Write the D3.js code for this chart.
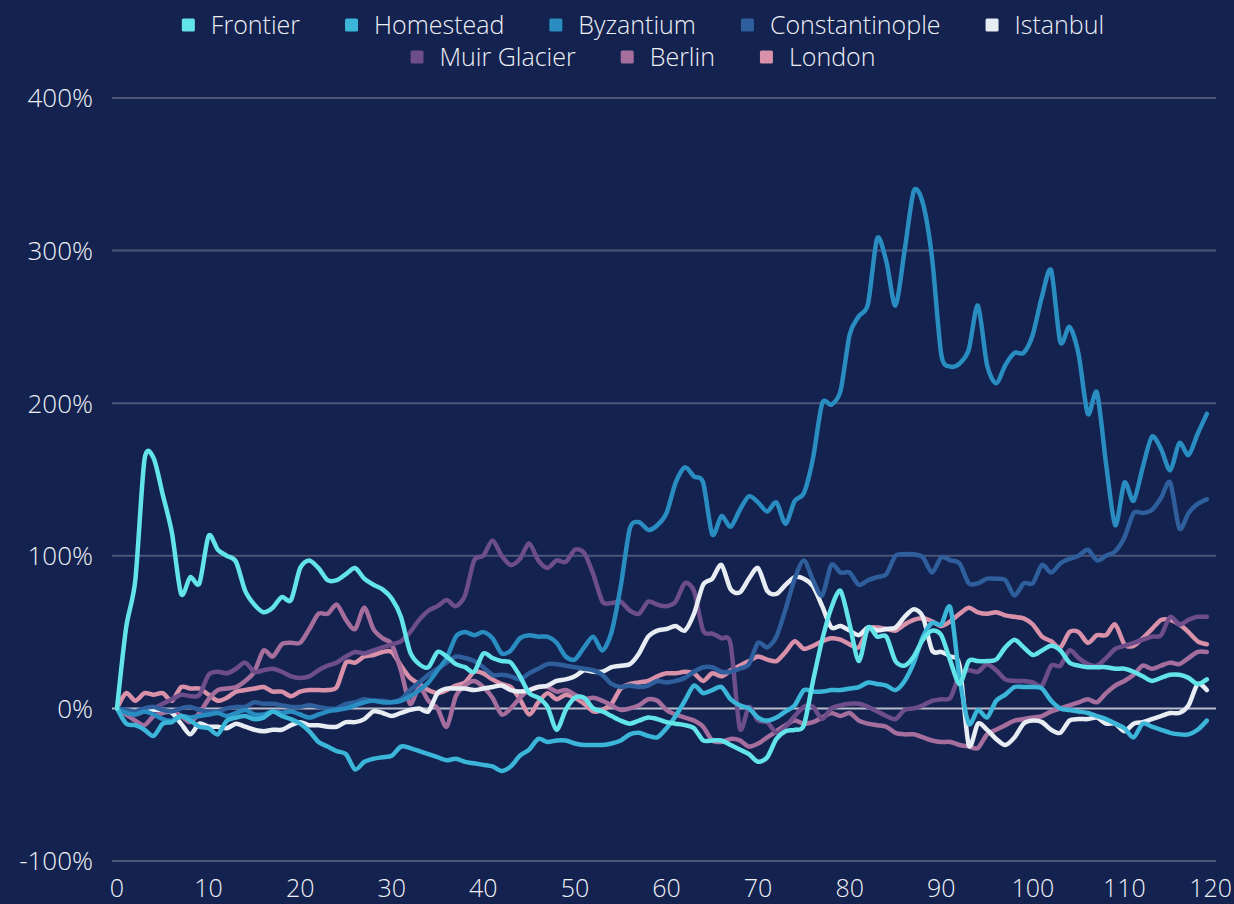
<!DOCTYPE html>
<html>
<head>
<meta charset="utf-8">
<script src="https://cdn.jsdelivr.net/npm/d3@7"></script>
<style>
  html, body { margin: 0; padding: 0; background: #13224f; }
  svg { display: block; font-family: "Open Sans", sans-serif; font-weight: 300; }
</style>
</head>
<body>
<div id="chart"></div>
<script>
// series names + colours (legend order)
var seriesNames = ["Frontier", "Homestead", "Byzantium", "Constantinople", "Istanbul", "Muir Glacier", "Berlin", "London"];
var seriesColors = ["#62e4e8", "#3bb6d8", "#2a8dc1", "#2e5e9c", "#e8ecf3", "#6d4e8a", "#a66e9d", "#d991aa"];

var yTicks = [-100, 0, 100, 200, 300, 400];
var xTicks = [0, 10, 20, 30, 40, 50, 60, 70, 80, 90, 100, 110, 120];

// percent change per step (steps 0..119)
var frontier = [0, 53, 84, 163, 164, 140, 115, 75, 86, 82, 113, 104, 100, 96, 77, 68, 63, 66, 73, 71,
  92, 97, 92, 84, 84, 88, 92, 85, 81, 78, 72, 60, 37, 29, 27, 37, 34, 29, 27, 24,
  36, 33, 31, 30, 21, 10, 7, 1, -14, -1, 7, 7, 0, -2, -5, -8, -10, -8, -6, -7,
  -9, -10, -11, -13, -21, -21, -21, -24, -27, -30, -35, -32, -20, -15, -14, -11, 18, 45, 66, 77,
  55, 31, 53, 47, 47, 31, 28, 34, 45, 51, 48, 31, 16, 31, 31, 31, 32, 40, 45, 40,
  35, 38, 41, 38, 30, 28, 27, 27, 27, 26, 26, 24, 21, 18, 20, 22, 22, 20, 16, 19];

var homestead = [0, -10, -11, -14, -18, -10, -9, -5, -8, -12, -13, -17, -8, -6, -5, -7, -6, -2, -5, -7,
  -10, -15, -22, -25, -28, -30, -40, -35, -33, -32, -31, -25, -26, -28, -30, -32, -34, -33, -35, -36,
  -37, -38, -41, -38, -31, -27, -20, -22, -21, -21, -23, -24, -24, -24, -23, -21, -17, -16, -18, -19,
  -13, -5, 5, 15, 10, 12, 14, 6, 2, 0, -6, -8, -6, -2, 2, 12, 11, 11, 12, 12,
  13, 14, 17, 16, 15, 12, 18, 30, 47, 56, 55, 66, 20, -10, -1, -6, 5, 9, 14, 14,
  14, 13, 5, 0, -1, -2, -3, -5, -7, -10, -13, -19, -10, -12, -14, -16, -17, -17, -14, -8];

var byzantium = [0, -3, -4, -2, -4, -7, -8, -5, -6, -5, -4, -3, -5, -3, -1, -4, -4, -2, -3, -2,
  -4, -6, -4, -2, -1, 0, 2, 4, 5, 4, 4, 5, 8, 12, 17, 25, 33, 47, 50, 48,
  50, 46, 36, 38, 46, 48, 47, 47, 43, 34, 32, 40, 47, 38, 50, 80, 118, 122, 117, 120,
  128, 148, 158, 152, 148, 114, 126, 119, 130, 139, 135, 129, 135, 121, 136, 141, 164, 200, 199, 208,
  245, 257, 265, 308, 293, 264, 300, 339, 331, 295, 232, 224, 226, 235, 264, 225, 213, 225, 233, 233,
  245, 270, 287, 240, 250, 232, 193, 207, 160, 120, 148, 136, 158, 178, 170, 156, 174, 166, 180, 193];

var constantinople = [0, -1, -2, 0, 1, -1, -2, 0, 1, -1, -2, -2, 0, 1, 1, 4, 3, 3, 2, 1,
  1, 2, 1, 0, 0, 3, 4, 6, 5, 5, 4, 6, 12, 17, 22, 26, 30, 34, 33, 31,
  27, 22, 22, 21, 19, 23, 26, 29, 29, 28, 27, 26, 25, 22, 16, 14, 15, 14, 15, 18,
  17, 18, 20, 24, 27, 27, 24, 24, 26, 29, 43, 40, 47, 65, 85, 97, 84, 74, 94, 89,
  89, 81, 84, 86, 88, 100, 101, 101, 99, 89, 99, 97, 95, 82, 82, 85, 85, 84, 74, 82,
  82, 94, 89, 95, 98, 100, 104, 97, 100, 103, 112, 128, 128, 130, 138, 148, 118, 128, 134, 137];

var istanbul = [0, -2, -2, -1, -1, -1, -3, -10, -17, -10, -12, -12, -13, -10, -12, -14, -15, -14, -14, -11,
  -9, -11, -11, -12, -12, -9, -9, -7, -2, -3, -5, -3, -1, 0, -2, 10, 13, 13, 13, 12,
  13, 14, 15, 12, 11, 12, 14, 15, 18, 19, 21, 25, 24, 24, 27, 28, 29, 36, 47, 51,
  52, 54, 51, 62, 81, 85, 94, 78, 76, 85, 92, 77, 75, 81, 86, 85, 80, 67, 53, 54,
  51, 48, 53, 51, 52, 53, 60, 65, 60, 38, 37, 34, 28, -24, -10, -14, -20, -24, -19, -10,
  -8, -9, -14, -16, -8, -7, -7, -6, -10, -10, -15, -10, -9, -7, -5, -3, -3, 2, 16, 12];

var muirGlacier = [0, -2, -4, -2, 0, 3, 6, 9, 8, 9, 22, 24, 23, 26, 30, 24, 25, 26, 24, 21,
  20, 21, 25, 28, 30, 34, 37, 36, 38, 40, 42, 44, 50, 58, 64, 67, 71, 67, 74, 97,
  100, 110, 100, 94, 98, 108, 97, 92, 97, 96, 104, 102, 88, 70, 69, 70, 64, 62, 70, 68,
  67, 70, 82, 77, 51, 49, 46, 42, -13, 1, -8, -9, -16, -12, -5, 1, 1, -7, 0, 2,
  3, 3, 1, -2, -5, -7, -1, 0, 2, 5, 6, 7, 22, 25, 24, 29, 25, 19, 18, 18,
  17, 15, 28, 28, 38, 33, 29, 28, 33, 39, 41, 43, 45, 47, 48, 60, 55, 58, 60, 60];

var berlin = [0, -4, -8, -11, -5, -3, -2, -5, -9, -3, 6, 12, 13, 14, 18, 24, 38, 34, 42, 43,
  43, 52, 62, 62, 68, 58, 52, 66, 52, 46, 42, 25, 3, 14, 5, 0, -12, 8, 15, 18,
  14, 7, -4, 0, 7, 12, 14, 14, 11, 12, 9, 6, 7, 5, 2, -1, 0, 2, 6, 5,
  -1, -4, -6, -8, -12, -21, -22, -20, -21, -25, -23, -19, -15, -11, -8, -10, -9, -6, -3, -5,
  -3, -8, -10, -11, -12, -16, -17, -17, -19, -21, -22, -22, -24, -25, -26, -17, -14, -11, -8, -7,
  -6, -5, -2, 0, 2, 4, 6, 4, 10, 15, 18, 22, 28, 26, 28, 30, 29, 33, 37, 37];

var london = [0, 10, 5, 10, 9, 10, 5, 14, 13, 13, 9, 5, 7, 11, 12, 13, 14, 11, 11, 8,
  11, 12, 12, 12, 14, 30, 30, 34, 35, 37, 37, 28, 20, 16, 12, 10, 12, 15, 17, 24,
  23, 19, 16, 14, 6, -4, 4, 10, 6, 9, 7, 3, -2, -1, 3, 13, 16, 17, 18, 21,
  23, 23, 24, 23, 18, 23, 21, 25, 28, 31, 34, 32, 31, 37, 44, 39, 41, 44, 46, 45,
  42, 40, 52, 53, 52, 51, 55, 58, 59, 57, 54, 57, 62, 66, 63, 62, 63, 61, 60, 59,
  55, 47, 44, 40, 50, 50, 43, 48, 48, 55, 42, 41, 46, 52, 58, 58, 55, 50, 44, 42];

var seriesValues = [frontier, homestead, byzantium, constantinople, istanbul, muirGlacier, berlin, london];

var width = 1234, height = 904;
var margin = {top: 98, right: 18, bottom: 43, left: 117};

var svg = d3.select("#chart").append("svg")
    .attr("width", width)
    .attr("height", height);

var x = d3.scaleLinear().domain([0, 120]).range([margin.left, width - margin.right]);
var y = d3.scaleLinear().domain([-100, 400]).range([height - margin.bottom, margin.top]);

// horizontal grid
svg.append("g")
    .selectAll("line")
    .data(yTicks)
    .join("line")
    .attr("x1", margin.left - 5)
    .attr("x2", width - margin.right)
    .attr("y1", d => y(d))
    .attr("y2", d => y(d))
    .attr("stroke", d => d == 0 ? "#b9bdcb" : "#4d5679")
    .attr("stroke-width", 2);

// y axis labels
svg.append("g")
    .selectAll("text")
    .data(yTicks)
    .join("text")
    .attr("x", 93)
    .attr("y", d => y(d))
    .attr("dy", "0.36em")
    .attr("text-anchor", "end")
    .attr("fill", "#eef0f6")
    .style("font-size", "26px")
    .text(d => d + "%");

// x axis labels (last one kept inside the frame)
svg.append("g")
    .selectAll("text")
    .data(xTicks)
    .join("text")
    .attr("x", d => d == 120 ? width - 2 : x(d))
    .attr("y", 897)
    .attr("text-anchor", d => d == 120 ? "end" : "middle")
    .attr("fill", "#eef0f6")
    .style("font-size", "25px")
    .text(d => d);

var line = d3.line()
    .x((d, i) => x(i))
    .y(d => y(d))
    .curve(d3.curveCardinal.tension(0.2));

// first series on top, like the original
svg.append("g")
    .selectAll("path")
    .data(seriesValues.map((v, i) => ({values: v, color: seriesColors[i]})).reverse())
    .join("path")
    .attr("d", d => line(d.values))
    .attr("fill", "none")
    .attr("stroke", d => d.color)
    .attr("stroke-width", 4.5)
    .attr("stroke-linejoin", "round")
    .attr("stroke-linecap", "round");

// legend, two centred rows
var legendRows = [[0, 1, 2, 3, 4], [5, 6, 7]];
var legendMid = [25, 57];

legendRows.forEach(function(row, r) {
    var g = svg.append("g");
    var cx = 0;
    row.forEach(function(k) {
        var item = g.append("g").attr("transform", "translate(" + cx + ",0)");
        item.append("rect")
            .attr("x", 0)
            .attr("y", legendMid[r] - 6.5)
            .attr("width", 13)
            .attr("height", 13)
            .attr("rx", 1.5)
            .attr("fill", seriesColors[k]);
        var t = item.append("text")
            .attr("x", 29)
            .attr("y", legendMid[r] + 9)
            .attr("fill", "#eef0f6")
            .style("font-size", "25px")
            .text(seriesNames[k]);
        cx += 29 + t.node().getComputedTextLength() + 45;
    });
    var total = cx - 45;
    g.attr("transform", "translate(" + (643 - total / 2) + ",0)");
});
</script>
</body>
</html>
